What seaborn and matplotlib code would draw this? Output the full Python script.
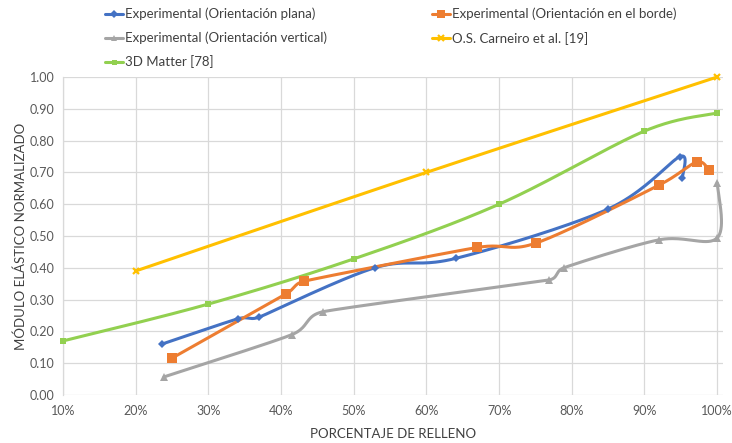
import numpy as np
import pandas as pd
import matplotlib
matplotlib.use("Agg")
import matplotlib.pyplot as plt
from matplotlib.lines import Line2D
from matplotlib.ticker import FuncFormatter, MultipleLocator
import seaborn as sns

# Porcentaje de relleno (%) y módulo elástico normalizado de cada serie
plana_x = [23.6, 34.1, 37.0, 52.9, 64.1, 85.0, 94.9, 95.2]
plana_y = [0.16, 0.24, 0.245, 0.40, 0.43, 0.585, 0.75, 0.682]

borde_x = [25.0, 40.7, 43.2, 67.0, 75.1, 92.0, 97.2, 98.9]
borde_y = [0.116, 0.318, 0.358, 0.464, 0.478, 0.66, 0.733, 0.707]

vertical_x = [23.9, 41.5, 45.8, 76.9, 78.9, 92.0, 100.0, 100.0]
vertical_y = [0.057, 0.19, 0.262, 0.362, 0.40, 0.488, 0.494, 0.667]

carneiro_x = [20, 60, 100]
carneiro_y = [0.39, 0.70, 1.00]

matter_x = [10, 30, 50, 70, 90, 100]
matter_y = [0.17, 0.286, 0.428, 0.60, 0.83, 0.887]

labels = [
    "Experimental (Orientación plana)",
    "Experimental (Orientación en el borde)",
    "Experimental (Orientación vertical)",
    "O.S. Carneiro et al. [19]",
    "3D Matter [78]",
]
colors = ["#4472C4", "#ED7D31", "#A5A5A5", "#FFC000", "#92D050"]
markers = ["D", "s", "^", "x", "s"]
msizes = [4.5, 6.5, 6, 5, 4.5]

series = [
    (plana_x, plana_y),
    (borde_x, borde_y),
    (vertical_x, vertical_y),
    (carneiro_x, carneiro_y),
    (matter_x, matter_y),
]

XMIN, XMAX = 10, 100.8
YMIN, YMAX = 0, 1.0
W_PX, H_PX = 660, 318


def smooth(xs, ys, n=40):
    """Curva Bezier suavizada en coordenadas de pantalla, con la longitud
    de las tangentes limitada a la mitad del tramo adyacente más corto."""
    px = (np.asarray(xs, float) - XMIN) / (XMAX - XMIN) * W_PX
    py = (np.asarray(ys, float) - YMIN) / (YMAX - YMIN) * H_PX
    pts = np.column_stack([px, py])
    if len(pts) < 3:
        out = pts
    else:
        m = len(pts)
        tang = np.zeros_like(pts)
        for i in range(m):
            a = pts[max(i - 1, 0)]
            b = pts[min(i + 1, m - 1)]
            d02 = np.linalg.norm(b - a)
            if d02 == 0:
                continue
            f = 1 / 6
            lims = []
            if i > 0:
                lims.append(np.linalg.norm(pts[i] - pts[i - 1]))
            if i < m - 1:
                lims.append(np.linalg.norm(pts[i + 1] - pts[i]))
            dmin = min(lims)
            if d02 * f > dmin / 2:
                f = dmin / (2 * d02)
            tang[i] = (b - a) * f
        seg = []
        t = np.linspace(0, 1, n)[:, None]
        for i in range(m - 1):
            p1, p2 = pts[i], pts[i + 1]
            c1 = p1 + tang[i]
            c2 = p2 - tang[i + 1]
            bz = ((1 - t) ** 3) * p1 + 3 * ((1 - t) ** 2) * t * c1 \
                + 3 * (1 - t) * t ** 2 * c2 + t ** 3 * p2
            seg.append(bz if i == 0 else bz[1:])
        out = np.vstack(seg)
    sx = out[:, 0] / W_PX * (XMAX - XMIN) + XMIN
    sy = out[:, 1] / H_PX * (YMAX - YMIN) + YMIN
    return sx, sy


sns.set_theme(style="whitegrid")
plt.rcParams["font.family"] = ["Lato", "DejaVu Sans"]

fig = plt.figure(figsize=(7.32, 4.43), dpi=100)
ax = fig.add_axes([63 / 732, 48 / 443, 660 / 732, 318 / 443])

handles = []
for (xs, ys), lab, col, mk, ms in zip(series, labels, colors, markers, msizes):
    sx, sy = smooth(xs, ys)
    curve = pd.DataFrame({"x": sx, "y": sy})
    sns.lineplot(data=curve, x="x", y="y", sort=False, estimator=None,
                 color=col, linewidth=2.2, ax=ax, clip_on=False, zorder=3)
    pts = pd.DataFrame({"x": xs, "y": ys})
    mew = 1.6 if mk == "x" else 0
    ax.plot(pts["x"], pts["y"], linestyle="none", marker=mk, markersize=ms,
            color=col, markeredgecolor=col, markeredgewidth=mew,
            zorder=4, clip_on=False)
    handles.append(Line2D([0], [0], color=col, linewidth=2.2, marker=mk,
                          markersize=ms * 0.8, markeredgewidth=mew,
                          markeredgecolor=col))

ax.set_xlim(XMIN, XMAX)
ax.set_ylim(YMIN, YMAX)
ax.xaxis.set_major_locator(MultipleLocator(10))
ax.yaxis.set_major_locator(MultipleLocator(0.1))
ax.xaxis.set_major_formatter(FuncFormatter(lambda v, p: f"{v:.0f}%"))
ax.yaxis.set_major_formatter(FuncFormatter(lambda v, p: f"{v:.2f}"))

ax.grid(True, color="#D9D9D9", linewidth=0.9)
for side in ["top", "right", "bottom"]:
    ax.spines[side].set_visible(False)
ax.spines["left"].set_color("#D9D9D9")
ax.spines["left"].set_linewidth(0.9)
ax.tick_params(axis="both", length=0, labelsize=9, labelcolor="#595959")
ax.tick_params(axis="x", pad=7)
ax.tick_params(axis="y", pad=6)

ax.set_xlabel("PORCENTAJE DE RELLENO", fontsize=9.5, color="#404040",
              labelpad=8)
ax.set_ylabel("MÓDULO ELÁSTICO NORMALIZADO", fontsize=9.5,
              color="#404040", labelpad=2)

order = [0, 2, 4, 1, 3]
fig.legend([handles[i] for i in order], [labels[i] for i in order],
           ncol=2, loc="upper left", bbox_to_anchor=(97 / 732, 1.0),
           frameon=False, fontsize=9.5, handlelength=1.35, handletextpad=0.15,
           columnspacing=8.0, labelspacing=0.85, labelcolor="#404040",
           borderaxespad=0.2)

fig.savefig("out.png", dpi=100, facecolor="white")
